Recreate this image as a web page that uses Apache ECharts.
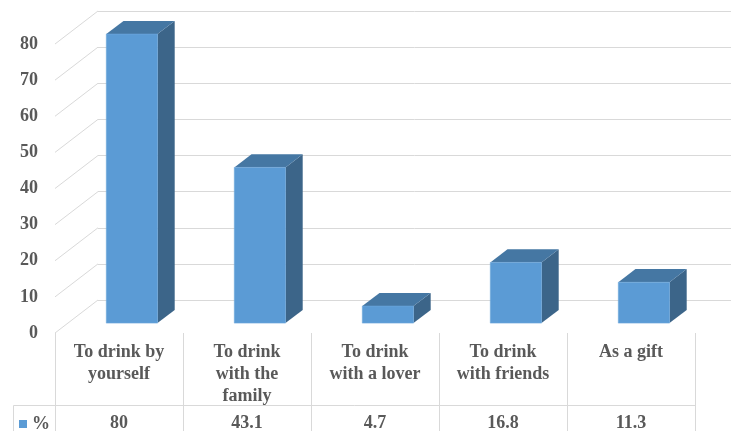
<!DOCTYPE html>
<html>
<head>
<meta charset="utf-8">
<style>
  html, body { margin: 0; padding: 0; background: #ffffff; }
  #chart { width: 731px; height: 431px; }
</style>
<script src="https://cdn.jsdelivr.net/npm/echarts@6/dist/echarts.min.js"></script>
</head>
<body>
<div id="chart"></div>
<script>
// Reasons for buying, share of respondents (%)
const categories = [
  'To drink by\nyourself',
  'To drink\nwith the\nfamily',
  'To drink\nwith a lover',
  'To drink\nwith friends',
  'As a gift'
];
const values = [80, 43.1, 4.7, 16.8, 11.3];
const seriesName = '%';
const yTicks = [0, 10, 20, 30, 40, 50, 60, 70, 80];

// 3D look: depth of the chart box and of each block
const DEPTH_X = 43, DEPTH_Y = 33;       // back wall offset from front plane
const BAR_OFFSET = 0.3;                 // block front face sits 30% into the depth
const BAR_DEPTH = 0.4;                  // block depth as share of the box depth
const BAR_WIDTH = 0.4;                  // block width as share of the category band

const FRONT = '#5B9BD5', TOP = '#4577A3', SIDE = '#3C6589';
const GRID_COLOR = '#d9d9d9';
const TEXT = '#595959';
const FONT = { fontFamily: 'Liberation Serif', fontWeight: 'bold', fontSize: 18, color: TEXT };

const chart = echarts.init(document.getElementById('chart'), null, { renderer: 'canvas' });

const blockItem = (params, api) => {
  const idx = api.value(0);
  const top = api.coord([idx, api.value(1)]);
  const base = api.coord([idx, 0]);
  const band = api.size([1, 0])[0];
  const w = band * BAR_WIDTH;
  const sx = DEPTH_X * BAR_OFFSET, sy = DEPTH_Y * BAR_OFFSET;
  const dx = DEPTH_X * BAR_DEPTH, dy = DEPTH_Y * BAR_DEPTH;
  const xl = top[0] - w / 2 + sx, xr = xl + w;
  const yt = top[1] - sy, yb = base[1] - sy;
  return {
    type: 'group',
    children: [
      { type: 'polygon', shape: { points: [[xr, yt], [xr + dx, yt - dy], [xr + dx, yb - dy], [xr, yb]] },
        style: { fill: SIDE } },
      { type: 'polygon', shape: { points: [[xl, yt], [xl + dx, yt - dy], [xr + dx, yt - dy], [xr, yt]] },
        style: { fill: TOP } },
      { type: 'rect', shape: { x: xl, y: yt, width: w, height: yb - yt },
        style: { fill: FRONT, stroke: '#6FA8DC', lineWidth: 0.6 } }
    ]
  };
};

// Side-wall lines joining each front tick to the back wall
const sideLineItem = (params, api) => {
  const p = api.coord([0, api.value(1)]);
  const half = api.size([1, 0])[0] / 2;
  const x0 = p[0] - half;
  return {
    type: 'line',
    shape: { x1: x0, y1: p[1], x2: x0 + DEPTH_X, y2: p[1] - DEPTH_Y },
    style: { stroke: GRID_COLOR, lineWidth: 1 }
  };
};

const option = {
  animation: false,
  backgroundColor: '#ffffff',
  grid: [
    // front plane
    { left: 55, right: 36, top: 44, bottom: 98, containLabel: false, outerBoundsMode: 'none' },
    // back wall
    { left: 55 + DEPTH_X, right: 0, top: 44 - DEPTH_Y, bottom: 98 + DEPTH_Y,
      containLabel: false, outerBoundsMode: 'none' }
  ],
  legend: {
    data: [seriesName],
    left: 14, top: 410,
    icon: 'rect', itemWidth: 8, itemHeight: 8,
    textStyle: FONT,
    selectedMode: false
  },
  xAxis: [
    {
      type: 'category', gridIndex: 0, data: categories,
      axisLine: { show: false },
      axisTick: { show: true, length: 98, lineStyle: { color: GRID_COLOR } },
      axisLabel: Object.assign({ margin: 8, lineHeight: 22, interval: 0 }, FONT)
    },
    {
      type: 'category', gridIndex: 0, position: 'bottom',
      data: values.map(String),
      axisLine: { show: false }, axisTick: { show: false },
      axisLabel: Object.assign({ margin: 79.5, lineHeight: 21.5, interval: 0 }, FONT)
    },
    { type: 'value', gridIndex: 1, show: false }
  ],
  yAxis: [
    {
      type: 'value', gridIndex: 0, min: 0, max: 80, interval: 10,
      axisLine: { show: false }, axisTick: { show: false }, splitLine: { show: false },
      axisLabel: Object.assign({ margin: 17, padding: [6, 0, 0, 0] }, FONT)
    },
    {
      type: 'value', gridIndex: 1, min: 0, max: 80, interval: 10,
      axisLine: { show: false }, axisTick: { show: false },
      axisLabel: { show: false },
      splitLine: { show: true, lineStyle: { color: GRID_COLOR, width: 1 } }
    }
  ],
  graphic: [
    {
      type: 'polyline', silent: true,
      shape: { points: [[13.5, 431], [13.5, 405.5], [695, 405.5]] },
      style: { stroke: GRID_COLOR, lineWidth: 1, fill: null }
    }
  ],
  series: [
    {
      type: 'custom', name: 'walls', silent: true, z: 1,
      xAxisIndex: 0, yAxisIndex: 0,
      data: yTicks.map(v => [0, v]),
      renderItem: sideLineItem
    },
    {
      type: 'custom', name: seriesName, z: 3,
      xAxisIndex: 0, yAxisIndex: 0,
      itemStyle: { color: FRONT },
      data: values.map((v, i) => [i, v]),
      renderItem: blockItem
    }
  ]
};

chart.setOption(option);
</script>
</body>
</html>
